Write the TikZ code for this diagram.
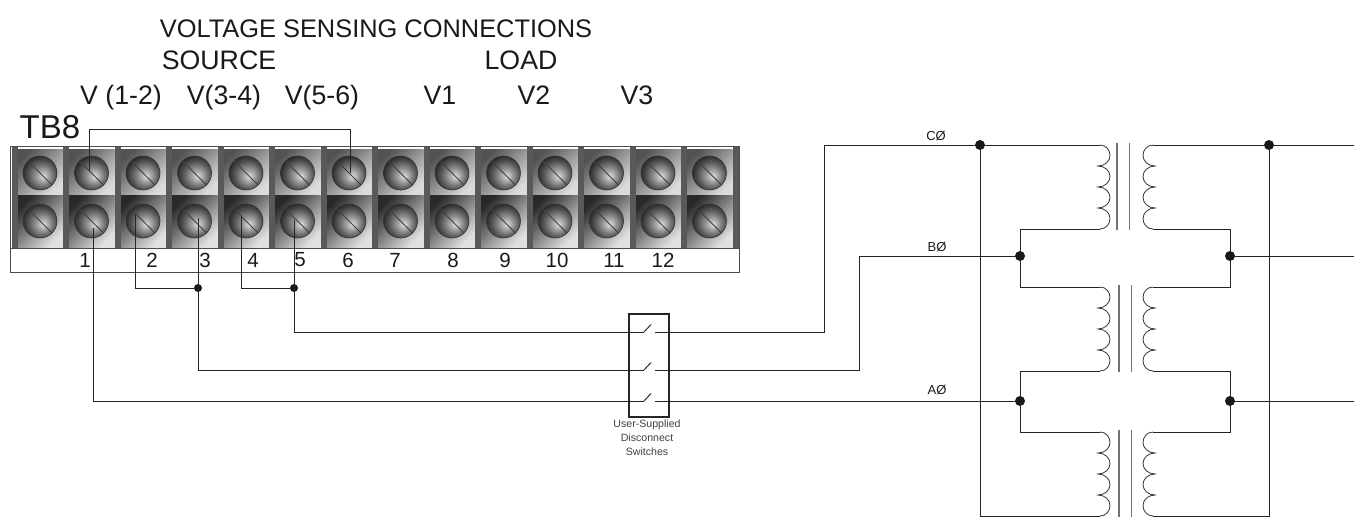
\documentclass[tikz,border=0pt]{standalone}
\usepackage{fontspec}
\setmainfont{Liberation Sans}
\pgfdeclareradialshading{screwball}{\pgfpoint{0.18cm}{-0.18cm}}{
  color(0bp)=(black!12);
  color(9bp)=(black!38);
  color(20bp)=(black!66);
  color(32bp)=(black!92);
  color(50bp)=(black!92)}
\tikzset{
  wire/.style={black!85, line width=0.95pt},
  coilline/.style={black!80, line width=0.8pt},
  coreline/.style={black!55, line width=1.2pt},
  cellup/.style={rectangle, minimum width=46pt, minimum height=46pt, inner sep=0, top color=black!68, bottom color=black!14, shading angle=45},
  celllow/.style={rectangle, minimum width=46pt, minimum height=52pt, inner sep=0, top color=black!84, bottom color=black!12, shading angle=45},
  bar/.style={rectangle, minimum width=6pt, minimum height=101pt, inner sep=0, fill=black!65},
  screw/.style={circle, minimum size=34pt, inner sep=0, draw=black!80, line width=0.6pt, shading=screwball},
  dot/.style={circle, minimum size=10pt, inner sep=0, fill=black!90},
  head/.style={font=\fontsize{26.7}{26.7}\selectfont, text=black!90, inner sep=0, anchor=base},
  num/.style={font=\fontsize{20.5}{20.5}\selectfont, text=black!90, inner sep=0},
  phase/.style={font=\fontsize{13}{13}\selectfont, text=black!90, inner sep=0},
  small/.style={font=\fontsize{10.6}{10.6}\selectfont, text=black!75, inner sep=0},
  coil/.pic={
    \draw[coilline] (0,0) .. controls (6,0) and (10,5) .. (10,10.5) .. controls (10,16) and (5,21) .. (-2,21)
      .. controls (5,21) and (10,26) .. (10,31.5) .. controls (10,37) and (5,42) .. (-2,42)
      .. controls (5,42) and (10,47) .. (10,52.5) .. controls (10,58) and (5,63) .. (-2,63)
      .. controls (5,63) and (10,68) .. (10,73.5) .. controls (10,79) and (6,84) .. (0,84);
  }
}

\begin{document}
\begin{tikzpicture}[x=1pt, y=-1pt]
    \useasboundingbox (0,0) rectangle (1354,517);

    % Headings
    \node[head, font=\fontsize{25.4}{25.4}\selectfont] (title) at (376,37) {VOLTAGE SENSING CONNECTIONS};
    \node[head] (source) at (219,69) {SOURCE};
    \node[head] (load) at (521,69) {LOAD};
    \node[head] (v12) at (121,104) {V (1-2)};
    \node[head] (v34) at (224,104) {V(3-4)};
    \node[head] (v56) at (322,104) {V(5-6)};
    \node[head] (v1) at (440,104) {V1};
    \node[head] (v2) at (534,104) {V2};
    \node[head] (v3) at (637,104) {V3};
    \node[font=\fontsize{33}{33}\selectfont, text=black!90, inner sep=0] (tb) at (50,127) {TB8};

    % Terminal strip
    \draw[black!70, line width=1pt] (10,146) rectangle (739,272);
    \draw[black!70, line width=1pt] (10,248) -- (739,248);
    \foreach \k in {1,...,14} {
        \pgfmathsetmacro{\xx}{40+(\k-1)*51.5}
        \node[cellup] (cu\k) at (\xx,172) {};
        \node[celllow] (cl\k) at (\xx,221) {};
    }
    \foreach \k in {0,...,14} {
        \node[bar] (bar\k) at (14.5+\k*51.5,197.5) {};
    }
    \foreach \k in {1,...,14} {
        \pgfmathsetmacro{\xx}{40+(\k-1)*51.5}
        \node[screw] (t\k) at (\xx,173) {};
        \node[screw] (b\k) at (\xx,221) {};
        \draw[black!75, line width=1pt] (t\k.135) -- (t\k.-45);
        \draw[black!75, line width=1pt] (b\k.135) -- (b\k.-45);
    }

    % Terminal numbers
    \foreach \lab/\xx in {1/85,2/152,3/205,4/253,5/300,6/348,7/395,8/453,9/505,10/557,11/614,12/663} {
        \node[num] (n\lab) at (\xx,260) {\lab};
    }

    % Wire ends inside the screws
    \coordinate (jmpa) at (89,171);
    \coordinate (jmpb) at (350,173);
    \coordinate (wa) at (93,228);
    \coordinate (wb) at (135,215);
    \coordinate (wc) at (198,218);
    \coordinate (wd) at (241,217);
    \coordinate (we) at (294,220);

    % Jumper over the strip
    \coordinate (jmptop) at (89,129);
    \draw[wire] (jmpa) -- (jmptop) -| (jmpb);

    % Junctions
    \node[dot, minimum size=8pt] (jsrc) at (198,288) {};
    \node[dot, minimum size=8pt] (jmid) at (294,288) {};
    \node[dot] (jct) at (980,145) {};
    \node[dot] (jcr) at (1269,145) {};
    \node[dot] (jbl) at (1020,256) {};
    \node[dot] (jbr) at (1230,256) {};
    \node[dot] (jal) at (1020,401) {};
    \node[dot] (jar) at (1230,401) {};

    % Disconnect switches
    \node[draw=black!85, line width=1.2pt, minimum width=40pt, minimum height=103pt, inner sep=0] (swbox) at (649,365.5) {};
    \foreach \nm/\yy in {c/332,b/370,a/401} {
        \coordinate (sw\nm l) at (644,\yy);
        \coordinate (sw\nm r) at (655,\yy);
        \draw[wire] (sw\nm l) -- ++(7,-7.5);
    }
    \node[small] (txta) at (647,425) {User-Supplied};
    \node[small] (txtb) at (647,438) {Disconnect};
    \node[small] (txtc) at (647,452) {Switches};

    % Source side wiring
    \draw[wire] (wb) |- (jsrc);
    \draw[wire] (wd) |- (jmid);
    \draw[wire] (wa) |- (swal);
    \draw[wire] (wc) |- (swbl);
    \draw[wire] (we) |- (swcl);

    % Line side wiring
    \coordinate (cbend) at (824,145);
    \coordinate (bbend) at (859,256);
    \draw[wire] (swcr) -| (cbend) -- (jct);
    \draw[wire] (swbr) -| (bbend) -- (jbl);
    \draw[wire] (swar) -- (jal);
    \node[phase] (cphase) at (936,136) {CØ};
    \node[phase] (bphase) at (937,247) {BØ};
    \node[phase] (aphase) at (937,390) {AØ};

    % Transformers
    \foreach \nm/\yy/\cx in {top/145/1117, mid/287/1119, low/432/1119} {
        \coordinate (pri\nm) at (1100,\yy);
        \coordinate (prie\nm) at (1100,\yy+84);
        \coordinate (sec\nm) at (1153,\yy);
        \coordinate (sece\nm) at (1153,\yy+84);
        \pic at (pri\nm) {coil};
        \pic[xscale=-1] at (sec\nm) {coil};
        \draw[coreline] (\cx,\yy-2) -- (\cx,\yy+85);
        \draw[coreline] (\cx+12.5,\yy-2) -- (\cx+12.5,\yy+85);
    }

    % Left bus
    \draw[wire] (jct) -- (pritop);
    \draw[wire] (jct) |- (prielow);
    \draw[wire] (prietop) -| (jbl) |- (primid);
    \draw[wire] (priemid) -| (jal) |- (prilow);

    % Right bus
    \coordinate (outc) at (1354,145);
    \coordinate (outb) at (1354,256);
    \coordinate (outa) at (1354,401);
    \draw[wire] (sectop) -- (jcr) -- (outc);
    \draw[wire] (jcr) |- (secelow);
    \draw[wire] (secetop) -| (jbr) |- (secmid);
    \draw[wire] (secemid) -| (jar) |- (seclow);
    \draw[wire] (jbr) -- (outb);
    \draw[wire] (jar) -- (outa);
\end{tikzpicture}
\end{document}
